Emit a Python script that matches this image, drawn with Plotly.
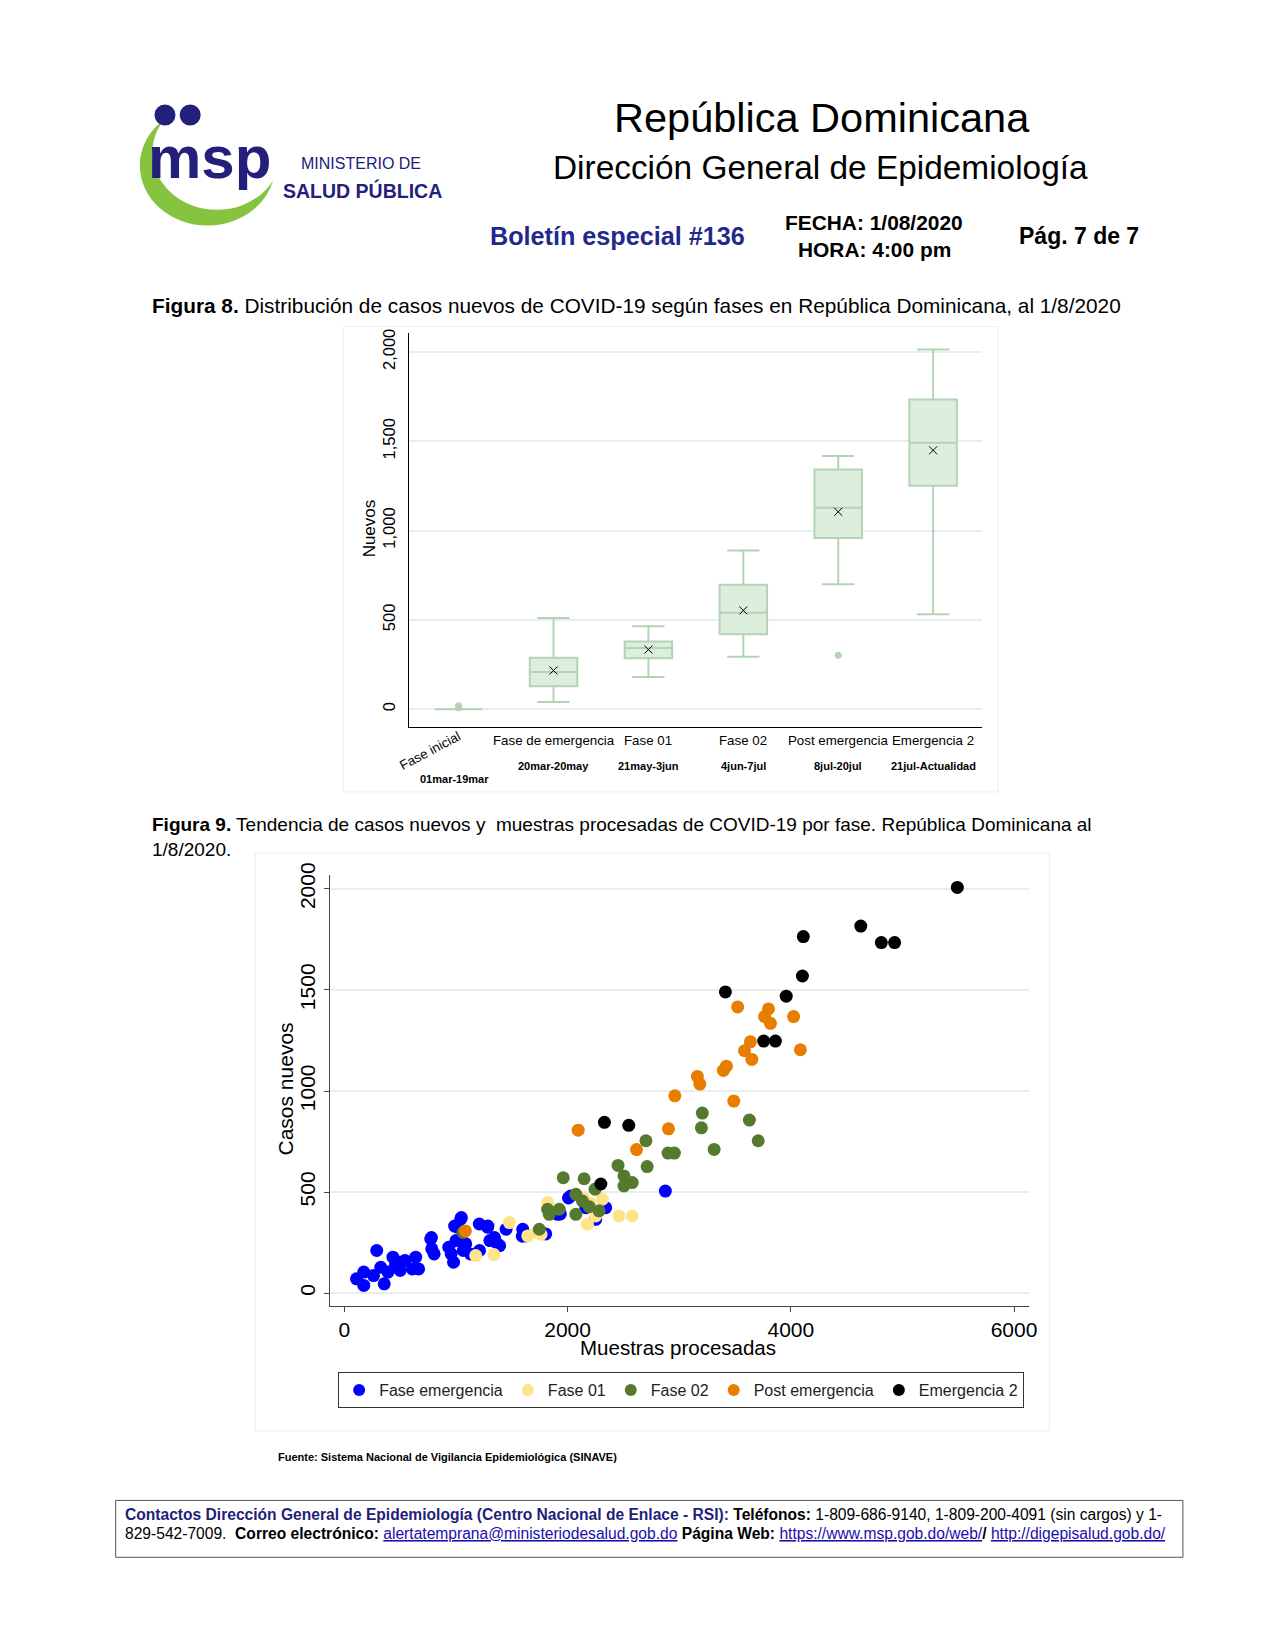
import plotly.graph_objects as go

# ---------------- data ----------------
phases = ["Fase inicial", "Fase de emergencia", "Fase 01", "Fase 02", "Post emergencia", "Emergencia 2"]
periods = ["01mar-19mar", "20mar-20may", "21may-3jun", "4jun-7jul", "8jul-20jul", "21jul-Actualidad"]
box_q1 = [0, 129, 286, 420, 958, 1251]
box_median = [0, 209, 342, 540, 1128, 1492]
box_q3 = [0, 288, 379, 697, 1341, 1733]
box_lower = [0, 41, 181, 293, 700, 532]
box_upper = [0, 510, 465, 889, 1417, 2013]
box_mean = [None, 217, 334, 553, 1105, 1449]
outlier_phase = ["Fase inicial", "Fase inicial", "Post emergencia"]
outlier_value = [8, 20, 302]

emerg_x = [109, 174, 174, 261, 290, 326, 357, 391, 435, 457, 500, 543, 500, 609, 639, 665, 774, 783, 804,
           935, 957, 978, 1000, 1043, 1013, 1065, 1087, 1130, 1209, 1283, 1211, 1304, 1345, 1391, 1449,
           1598, 1628, 1804, 1935, 2029, 2008, 2341, 2163, 2252, 1910, 2876, 1286, 1375, 1048, 988, 780, 1595]
emerg_y = [71, 104, 38, 87, 211, 128, 46, 104, 178, 137, 153, 161, 112, 120, 178, 120, 268, 219, 194,
           227, 194, 153, 260, 367, 326, 211, 244, 194, 342, 326, 211, 260, 275, 235, 316,
           316, 283, 293, 392, 481, 471, 423, 423, 365, 390, 505, 332, 242, 374, 332, 275, 282]
f01_x = [1821, 2312, 2144, 2460, 2579, 2178, 2252, 1479, 1643, 1762, 1177, 1340, 2200, 1720]
f01_y = [448, 465, 471, 382, 382, 341, 382, 349, 283, 291, 186, 191, 445, 300]
f02_x = [3207, 3199, 3629, 3708, 2702, 3313, 2900, 2957, 2452, 2713, 1961, 2148, 2505, 2505, 2579, 2246,
         2074, 2133, 2193, 1821, 1836, 1925, 2074, 2282, 1747, 1063]
f02_y = [891, 818, 856, 754, 754, 711, 693, 693, 632, 626, 571, 566, 580, 530, 547, 514,
         489, 456, 428, 415, 390, 415, 390, 407, 316, 300]
post_x = [3524, 3800, 3765, 3818, 4025, 3638, 3585, 3651, 4086, 3423, 3396, 3163, 3185, 2961, 3489, 2904,
          2095, 2618, 1084]
post_y = [1416, 1406, 1368, 1335, 1368, 1243, 1199, 1156, 1204, 1123, 1102, 1072, 1034, 976, 950, 813,
          806, 710, 308]
em2_x = [5492, 4627, 4811, 4930, 4112, 4104, 3414, 3959, 3757, 3862, 2330, 2548, 2298]
em2_y = [2007, 1816, 1734, 1734, 1764, 1569, 1490, 1469, 1247, 1247, 845, 830, 540]

series_names = ["Fase emergencia", "Fase 01", "Fase 02", "Post emergencia", "Emergencia 2"]
series_x = [emerg_x, f01_x, f02_x, post_x, em2_x]
series_y = [emerg_y, f01_y, f02_y, post_y, em2_y]
series_colors = ["#0000ff", "#ffe38a", "#557a2e", "#e77e00", "#000000"]

# ---------------- layout helpers ----------------
W, H = 1275, 1650


def fx(p):
    return ((p - 7.4) / 0.9462) / W


def fy(p):
    return 1 - ((p - 17.7) / 0.9424) / H


SANS = "Liberation Sans, Arial, sans-serif"
NAVY = "#22207a"
BOXLINE = "#b3d4b3"
BOXFILL = "#deeede"
GRID = "#e6eff0"

fig = go.Figure()

# ---------------- Figure 8: box plot ----------------
fig.add_trace(go.Box(
    x=phases, q1=box_q1, median=box_median, q3=box_q3,
    lowerfence=box_lower, upperfence=box_upper,
    boxpoints=False, fillcolor=BOXFILL, line=dict(color=BOXLINE, width=2),
    width=0.5, whiskerwidth=0.68, showlegend=False, hoverinfo="skip",
    xaxis="x", yaxis="y"))
fig.add_trace(go.Scatter(
    x=phases, y=box_mean, mode="markers",
    marker=dict(symbol="x-thin", size=8, line=dict(color="black", width=1)),
    showlegend=False, xaxis="x", yaxis="y"))
fig.add_trace(go.Scatter(
    x=outlier_phase, y=outlier_value, mode="markers",
    marker=dict(symbol="circle", size=7, color=BOXLINE),
    showlegend=False, xaxis="x", yaxis="y"))

# ---------------- Figure 9: scatter ----------------
for name, xs, ys, col in zip(series_names, series_x, series_y, series_colors):
    fig.add_trace(go.Scatter(
        x=xs, y=ys, mode="markers", name=name,
        marker=dict(symbol="circle", size=13, color=col),
        xaxis="x2", yaxis="y2"))

fig.update_layout(
    width=W, height=H, margin=dict(l=0, r=0, t=0, b=0),
    paper_bgcolor="white", plot_bgcolor="white",
    font=dict(family=SANS, color="black"),
    xaxis=dict(domain=[fx(389.4), fx(936)], type="category", range=[-0.524, 5.52],
               showticklabels=False, showgrid=False, zeroline=False,
               showline=True, linecolor="black", linewidth=1, ticks="", anchor="y"),
    yaxis=dict(domain=[fy(687.9), fy(314.5)], range=[-97, 2103],
               tickvals=[0, 500, 1000, 1500, 2000],
               ticktext=["0", "500", "1,000", "1,500", "2,000"],
               tickangle=-90, tickfont=dict(size=16.5, family=SANS),
               ticks="outside", ticklen=6, tickcolor="rgba(0,0,0,0)",
               showgrid=True, gridcolor=GRID, gridwidth=2, zeroline=False,
               showline=True, linecolor="black", linewidth=1, anchor="x"),
    xaxis2=dict(domain=[fx(314), fx(980)], range=[-131, 6131],
                tickvals=[0, 2000, 4000, 6000], tickfont=dict(size=21, family=SANS),
                showgrid=False, zeroline=False, showline=True, linecolor="#444",
                linewidth=1, ticks="outside", ticklen=5, tickcolor="#444", anchor="y2"),
    yaxis2=dict(domain=[fy(1238), fy(829)], range=[-62, 2068],
                tickvals=[0, 500, 1000, 1500, 2000], tickangle=-90,
                tickfont=dict(size=21, family=SANS),
                showgrid=True, gridcolor=GRID, gridwidth=2, zeroline=False,
                showline=True, linecolor="#444", linewidth=1, ticks="outside",
                ticklen=5, tickcolor="#444", anchor="x2"),
    legend=dict(orientation="h", x=fx(322), y=fy(1301), xanchor="left", yanchor="top",
                bgcolor="white", bordercolor="#333", borderwidth=1,
                font=dict(size=16, family=SANS, color="#222"), itemsizing="constant"),
)

ann = []


def A(x, y, text, size, xanchor="center", family=SANS, color="black", **kw):
    ann.append(dict(x=x, y=y, xref="paper", yref="paper", text=text, showarrow=False,
                    xanchor=xanchor, yanchor="middle", font=dict(size=size, family=family, color=color),
                    **kw))


# header
A(fx(783), fy(109), "República Dominicana", 41.5)
A(fx(782), fy(157), "Dirección General de Epidemiología", 33.4)
A(fx(588), fy(222), "<b>Boletín especial #136</b>", 25.2, color="#1f2a8a")
A(fx(833), fy(209), "<b>FECHA: 1/08/2020</b>", 20.9)
A(fx(833), fy(235), "<b>HORA: 4:00 pm</b>", 20.9)
A(fx(1028), fy(222), "<b>Pág. 7 de 7</b>", 23)

# logo text
A(fx(199), fy(147), "<b>msp</b>", 60, color=NAVY)
A(fx(344), fy(153), "MINISTERIO DE", 16, color=NAVY)
A(fx(345), fy(179), "<b>SALUD PÚBLICA</b>", 19.5, color=NAVY)

# captions
A(fx(143), fy(288), "<b>Figura 8.</b> Distribución de casos nuevos de COVID-19 según fases en República Dominicana, al 1/8/2020",
  20.8, xanchor="left")
A(fx(143), fy(793), "<b>Figura 9.</b> Tendencia de casos nuevos y  muestras procesadas de COVID-19 por fase. República Dominicana al<br>1/8/2020.",
  19, xanchor="left", align="left")

# fig 8 axis labels
A(fx(352), fy(500), "Nuevos", 17, textangle=-90)
for i, (ph, per) in enumerate(zip(phases, periods)):
    if i == 0:
        ann.append(dict(x=i, y=fy(711), xref="x", yref="paper", text=ph, showarrow=False,
                        xshift=-28, textangle=-28, font=dict(size=13.3, family=SANS)))
        ann.append(dict(x=i, y=fy(738), xref="x", yref="paper", text="<b>" + per + "</b>",
                        showarrow=False, xshift=-4, font=dict(size=11, family=SANS)))
    else:
        ann.append(dict(x=i, y=fy(701), xref="x", yref="paper", text=ph, showarrow=False,
                        font=dict(size=13.3, family=SANS)))
        ann.append(dict(x=i, y=fy(725), xref="x", yref="paper", text="<b>" + per + "</b>",
                        showarrow=False, font=dict(size=11, family=SANS)))

# fig 9 axis titles
A(fx(646), fy(1278), "Muestras procesadas", 20.5)
A(fx(272), fy(1032), "Casos nuevos", 21, textangle=-90)

# source
A(fx(263), fy(1382), "<b>Fuente: Sistema Nacional de Vigilancia Epidemiológica (SINAVE)</b>", 11, xanchor="left")

# contact box text
U = "<span style='text-decoration:underline;color:#1a0dab'>%s</span>"
line1 = ("<b><span style='color:#1f1f7a'>Contactos Dirección General de Epidemiología (Centro Nacional de Enlace - RSI):</span>"
         " Teléfonos:</b> 1-809-686-9140, 1-809-200-4091 (sin cargos) y 1-")
line2 = ("829-542-7009.  <b>Correo electrónico:</b> " + U % "alertatemprana@ministeriodesalud.gob.do" +
         " <b>Página Web:</b> " + U % "https://www.msp.gob.do/web/" + "<b>/</b> " + U % "http://digepisalud.gob.do/")
A(fx(117), fy(1436), line1, 15.6, xanchor="left")
A(fx(117), fy(1454), line2, 15.6, xanchor="left")

fig.update_layout(annotations=ann)

shapes = [
    # logo green crescent
    dict(type="circle", xref="paper", yref="paper", x0=fx(133), x1=fx(262), y0=fy(212), y1=fy(98),
         fillcolor="#86c440", line=dict(width=0), layer="below"),
    dict(type="circle", xref="paper", yref="paper", x0=fx(145), x1=fx(268), y0=fy(197), y1=fy(88),
         fillcolor="white", line=dict(width=0), layer="below"),
    dict(type="circle", xref="paper", yref="paper", x0=fx(147), x1=fx(167), y0=fy(117), y1=fy(97),
         fillcolor=NAVY, line=dict(width=0)),
    dict(type="circle", xref="paper", yref="paper", x0=fx(171), x1=fx(191), y0=fy(117), y1=fy(97),
         fillcolor=NAVY, line=dict(width=0)),
    # frames
    dict(type="rect", xref="paper", yref="paper", x0=fx(327), x1=fx(951), y0=fy(750), y1=fy(308),
         line=dict(color="#e9eff0", width=1), layer="below"),
    dict(type="rect", xref="paper", yref="paper", x0=fx(243), x1=fx(1000), y0=fy(1357), y1=fy(808),
         line=dict(color="#e9eff0", width=1), layer="below"),
    dict(type="rect", xref="paper", yref="paper", x0=fx(110), x1=fx(1127), y0=fy(1477), y1=fy(1423),
         line=dict(color="#555", width=1)),
]
fig.update_layout(shapes=shapes)

fig.write_html("out.html")
